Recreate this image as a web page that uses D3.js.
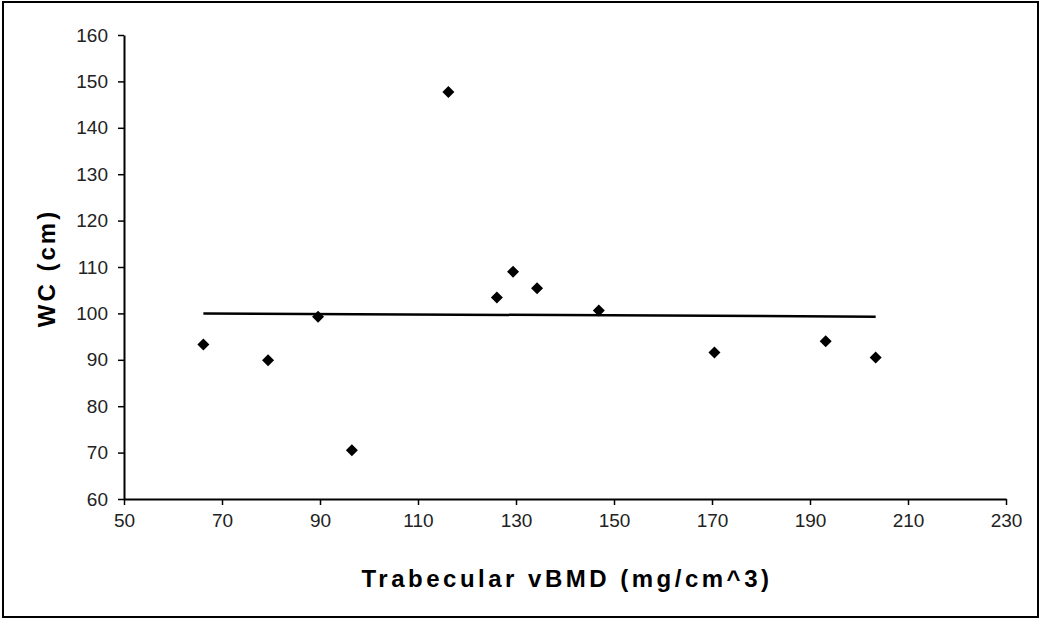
<!DOCTYPE html>
<html>
<head>
<meta charset="utf-8">
<script src="https://cdn.jsdelivr.net/npm/d3@7"></script>
<style>
  body { margin: 0; background: #fff; }
  text { font-family: "Liberation Sans", Arial, sans-serif; }
</style>
</head>
<body>
<div id="chart"></div>
<script>
// trabecular vBMD (mg/cm^3) vs WC (cm)
var vbmd = [66.2, 79.4, 89.6, 96.5, 116.2, 126.1, 129.4, 134.3, 146.9, 170.5, 193.2, 203.4];
var wc   = [93.3, 89.9, 99.3, 70.5, 147.7, 103.4, 109.0, 105.4, 100.6, 91.6, 94.0, 90.5];
var trendX = [66.2, 203.4];
var trendY = [100.0, 99.3];
var xTicks = [50, 70, 90, 110, 130, 150, 170, 190, 210, 230];
var yTicks = [60, 70, 80, 90, 100, 110, 120, 130, 140, 150, 160];

var W = 1041, H = 619;
var margin = {top: 35, right: 35, bottom: 120, left: 124},
    width = 1006 - margin.left,
    height = 499 - margin.top;

var svg = d3.select("#chart").append("svg")
    .attr("width", W)
    .attr("height", H);

// outer frame
svg.append("rect")
    .attr("x", 3).attr("y", 2)
    .attr("width", 1035).attr("height", 615)
    .attr("fill", "#fff")
    .attr("stroke", "#000")
    .attr("stroke-width", 2);

var g = svg.append("g")
    .attr("transform", "translate(" + margin.left + "," + margin.top + ")");

var x = d3.scaleLinear().domain([50, 230]).range([0, width]);
var y = d3.scaleLinear().domain([60, 160]).range([height, 0]);

var xAxis = g.append("g")
    .attr("transform", "translate(0," + height + ")")
    .call(d3.axisBottom(x).tickValues(xTicks).tickSize(6).tickPadding(9).tickSizeOuter(0));
var yAxis = g.append("g")
    .call(d3.axisLeft(y).tickValues(yTicks).tickSize(6).tickPadding(10).tickSizeOuter(0));

[xAxis, yAxis].forEach(function (a) {
    a.select(".domain").attr("stroke", "#000").attr("stroke-width", 2);
    a.selectAll(".tick line").attr("stroke", "#000").attr("stroke-width", 1.5);
    a.selectAll(".tick text")
        .attr("fill", "#222")
        .style("font-size", "19px")
        .style("font-family", "'Liberation Sans', Arial, sans-serif");
});

// trend line
var pts = trendX.map(function (d, i) { return [d, trendY[i]]; });
g.append("path")
    .datum(pts)
    .attr("fill", "none")
    .attr("stroke", "#000")
    .attr("stroke-width", 2.5)
    .attr("d", d3.line()
        .x(function (d) { return x(d[0]); })
        .y(function (d) { return y(d[1]); }));

// points
var data = vbmd.map(function (d, i) { return {x: d, y: wc[i]}; });
g.selectAll(".pt")
    .data(data)
    .enter().append("path")
    .attr("class", "pt")
    .attr("transform", function (d) { return "translate(" + x(d.x) + "," + y(d.y) + ")"; })
    .attr("d", "M0,-6L6,0L0,6L-6,0Z")
    .attr("fill", "#000");

// labels
svg.append("text")
    .attr("x", 567)
    .attr("y", 587)
    .attr("text-anchor", "middle")
    .style("font-size", "24px")
    .style("font-weight", "bold")
    .style("letter-spacing", "3.5px")
    .text("Trabecular vBMD (mg/cm^3)");

svg.append("text")
    .attr("transform", "translate(55,268) rotate(-90)")
    .attr("text-anchor", "middle")
    .style("font-size", "24px")
    .style("font-weight", "bold")
    .style("letter-spacing", "3px")
    .text("WC (cm)");
</script>
</body>
</html>
